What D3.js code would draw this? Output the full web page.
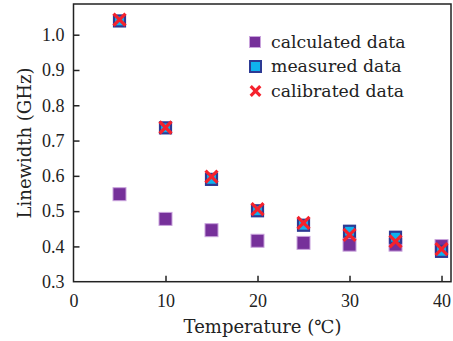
<!DOCTYPE html>
<html><head><meta charset="utf-8">
<script src="https://cdn.jsdelivr.net/npm/d3@7"></script>
<style>body{margin:0;background:#fff;}svg{display:block;}</style>
</head><body>
<script>
const temperatures = [5, 10, 15, 20, 25, 30, 35, 40];
const calculated = [0.548, 0.478, 0.446, 0.416, 0.410, 0.405, 0.405, 0.401];
const measured   = [1.039, 0.736, 0.590, 0.501, 0.460, 0.443, 0.426, 0.386];
const calibrated = [1.043, 0.737, 0.598, 0.506, 0.467, 0.433, 0.414, 0.392];
const xTicks = [0, 10, 20, 30, 40];
const yTicks = [0.3, 0.4, 0.5, 0.6, 0.7, 0.8, 0.9, 1.0];
const legendLabels = ["calculated data", "measured data", "calibrated data"];

const W = 453, H = 341;
const L = 73.5, R = 451, T = 4, B = 281.7;
const svg = d3.select("body").append("svg").attr("width", W).attr("height", H);
const x = d3.scaleLinear().domain([0, 41.03]).range([L, R]);
const y = d3.scaleLinear().domain([0.3, 1.087]).range([B, T]);
const tickFont = "'Liberation Serif', serif";
const textFont = "'DejaVu Serif', serif";
const ink = "#222";

// frame
svg.append("rect").attr("x", L).attr("y", T).attr("width", R - L).attr("height", B - T)
  .attr("fill", "none").attr("stroke", ink).attr("stroke-width", 1.5);

const xAxis = svg.append("g").attr("transform", `translate(0,${B})`)
  .call(d3.axisBottom(x).tickValues(xTicks).tickSize(-6).tickPadding(12).tickFormat(d3.format("d")));
const yAxis = svg.append("g").attr("transform", `translate(${L},0)`)
  .call(d3.axisLeft(y).tickValues(yTicks).tickSize(-6).tickPadding(9).tickFormat(d3.format(".1f")));
[xAxis, yAxis].forEach(a => {
  a.select(".domain").remove();
  a.selectAll("line").attr("stroke", ink).attr("stroke-width", 1.5);
  a.selectAll("text").attr("font-family", tickFont).attr("font-size", 18).attr("fill", ink);
});
xAxis.selectAll("text").attr("dy", "0.71em").attr("y", 12.5);
xAxis.selectAll(".tick").filter(d => d === 0).select("line").remove();
yAxis.selectAll(".tick").filter(d => d === 0.3).select("line").remove();

// axis titles
svg.append("text").attr("x", 262.5).attr("y", 333).attr("text-anchor", "middle")
  .attr("font-family", textFont).attr("font-size", 18).attr("fill", ink).text("Temperature (℃)");
svg.append("text").attr("transform", "translate(31,143) rotate(-90)").attr("text-anchor", "middle")
  .attr("font-family", textFont).attr("font-size", 18).attr("fill", ink).text("Linewidth (GHz)");

const purple = "#76309a", purpleEdge = "#c9a3dc", blue = "#0fb2ee", blueEdge = "#2d3a94", red = "#f5222d";
const S = 13;

// calculated
svg.append("g").selectAll("rect").data(temperatures).join("rect")
  .attr("x", (d) => x(d) - S / 2).attr("y", (d, i) => y(calculated[i]) - S / 2)
  .attr("width", S).attr("height", S).attr("fill", purple).attr("stroke", purpleEdge).attr("stroke-width", 1);
// measured
svg.append("g").selectAll("rect").data(temperatures).join("rect")
  .attr("x", (d) => x(d) - (S - 2) / 2).attr("y", (d, i) => y(measured[i]) - (S - 2) / 2)
  .attr("width", S - 2).attr("height", S - 2).attr("fill", blue).attr("stroke", blueEdge).attr("stroke-width", 2.2);
// calibrated
const cross = (g, cx, cy, r, w) => {
  g.append("path").attr("d", `M${cx - r},${cy - r}L${cx + r},${cy + r}M${cx - r},${cy + r}L${cx + r},${cy - r}`)
    .attr("stroke", red).attr("stroke-width", w).attr("fill", "none");
};
const cg = svg.append("g");
temperatures.forEach((t, i) => cross(cg, x(t), y(calibrated[i]), 6, 3.2));

// legend
const lg = svg.append("g");
const ly = [42, 66.5, 91];
lg.append("rect").attr("x", 249.5).attr("y", ly[0] - 5.5).attr("width", 11).attr("height", 11)
  .attr("fill", purple).attr("stroke", purpleEdge).attr("stroke-width", 1);
lg.append("rect").attr("x", 250).attr("y", ly[1] - 5.5).attr("width", 11).attr("height", 11)
  .attr("fill", blue).attr("stroke", blueEdge).attr("stroke-width", 2);
cross(lg, 255.5, ly[2], 4.8, 3.2);
legendLabels.forEach((t, i) => {
  lg.append("text").attr("x", 271).attr("y", ly[i] + 5.5).attr("font-family", textFont)
    .attr("font-size", 17.3).attr("fill", ink).text(t);
});
</script>
</body></html>
